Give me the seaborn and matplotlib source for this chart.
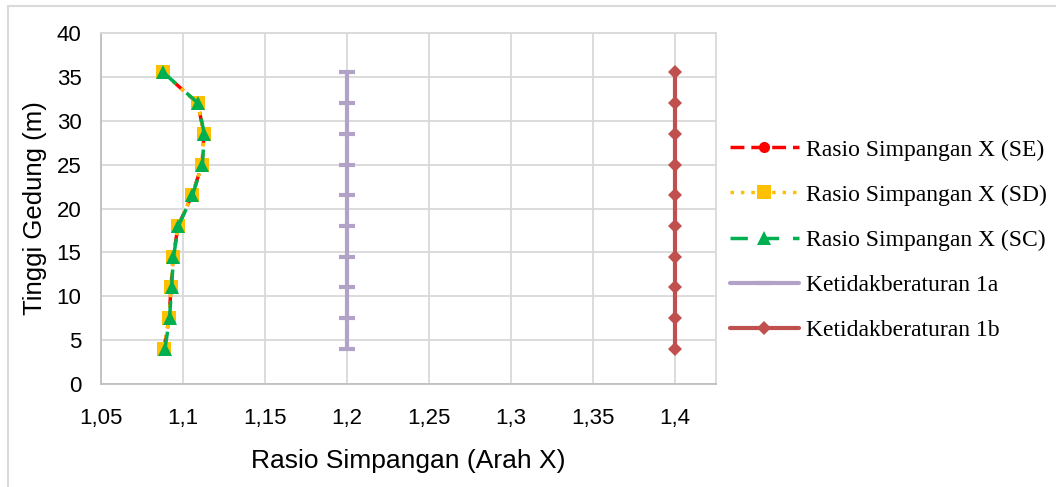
import numpy as np
import pandas as pd
import matplotlib
matplotlib.use("Agg")
import matplotlib.pyplot as plt
import seaborn as sns
from matplotlib.ticker import FuncFormatter, MultipleLocator
from matplotlib.patches import Rectangle

# --- data ---
tinggi = [4, 7.5, 11, 14.5, 18, 21.5, 25, 28.5, 32, 35.5]
rasio_se = [1.0884, 1.0915, 1.0927, 1.0940, 1.0970, 1.1055, 1.1116, 1.1128, 1.1090, 1.0878]
rasio_sd = [1.0884, 1.0915, 1.0927, 1.0940, 1.0970, 1.1055, 1.1116, 1.1128, 1.1090, 1.0878]
rasio_sc = [1.0890, 1.0918, 1.0930, 1.0942, 1.0972, 1.1057, 1.1118, 1.1130, 1.1092, 1.0880]
batas_1a = [1.2] * len(tinggi)
batas_1b = [1.4] * len(tinggi)

W, H = 1056, 487
sns.set_style("white")
plt.rcParams['font.family'] = ['Liberation Sans', 'DejaVu Sans']
plt.rcParams['text.color'] = 'black'

fig = plt.figure(figsize=(W / 100, H / 100), dpi=100)
ax = fig.add_axes([101 / W, 1 - 384 / H, (716 - 101) / W, (384 - 33) / H])

# rangka luar grafik (chart area border)
fig.patches.append(Rectangle((8 / W, -0.05), 1.1, 1 - 6 / H + 0.05, transform=fig.transFigure,
                             fill=False, edgecolor="#D9D9D9", linewidth=1.5, zorder=-1))

series = [
    ("Rasio Simpangan X (SE)", rasio_se, "#FF0000", (0, (4, 2)), "o", 8),
    ("Rasio Simpangan X (SD)", rasio_sd, "#FFC000", (0, (1, 2)), "s", 10),
    ("Rasio Simpangan X (SC)", rasio_sc, "#00B050", (0, (5, 4)), "^", 10),
]
for nama, nilai, warna, ls, mk, ms in series:
    sns.lineplot(x=nilai, y=tinggi, sort=False, estimator=None, ax=ax, color=warna,
                 linestyle=ls, linewidth=2.5, marker=mk, markersize=ms,
                 markeredgewidth=0, label=nama)

sns.lineplot(x=batas_1a, y=tinggi, sort=False, estimator=None, ax=ax, color="#B3A2C7",
             linewidth=3, marker="_", markersize=12, markeredgewidth=3,
             markeredgecolor="#B3A2C7", label="Ketidakberaturan 1a")
sns.lineplot(x=batas_1b, y=tinggi, sort=False, estimator=None, ax=ax, color="#C0504D",
             linewidth=3, marker="D", markersize=7, markeredgewidth=0,
             label="Ketidakberaturan 1b")

ax.set_xlim(1.05, 1.425)
ax.set_ylim(0, 40)
ax.set_xticks([1.05, 1.1, 1.15, 1.2, 1.25, 1.3, 1.35, 1.4])
ax.set_yticks(range(0, 41, 5))
ax.xaxis.set_minor_locator(MultipleLocator(0.025))
ax.xaxis.set_major_formatter(FuncFormatter(lambda v, p: f"{v:g}".replace(".", ",")))
ax.grid(True, which='major', color="#D9D9D9", linewidth=1.3)
ax.set_axisbelow(True)
for s in ax.spines.values():
    s.set_color("#D9D9D9")
    s.set_linewidth(1.3)
ax.spines['left'].set_color("#BFBFBF")
ax.spines['bottom'].set_color("#BFBFBF")
ax.tick_params(axis='y', labelsize=16, length=0, pad=14, labelcolor='black')
ax.tick_params(axis='x', which='major', labelsize=16, pad=17, labelcolor='black')
ax.tick_params(axis='x', which='both', direction='in', length=4, color="#BFBFBF", width=1.2)
ax.set_xlabel("Rasio Simpangan (Arah X)", fontsize=19, labelpad=15, color='black')
ax.set_ylabel("Tinggi Gedung (m)", fontsize=18.5, labelpad=7, color='black')

leg = ax.legend(loc="center left", bbox_to_anchor=(1.0075, 0.41), frameon=False,
                borderaxespad=0, borderpad=0.4,
                prop={'family': 'Liberation Serif', 'size': 17}, handlelength=2.9,
                labelspacing=1.0, handletextpad=0.3)
for t in leg.get_texts():
    t.set_color('black')

fig.savefig("out.png", dpi=100)
